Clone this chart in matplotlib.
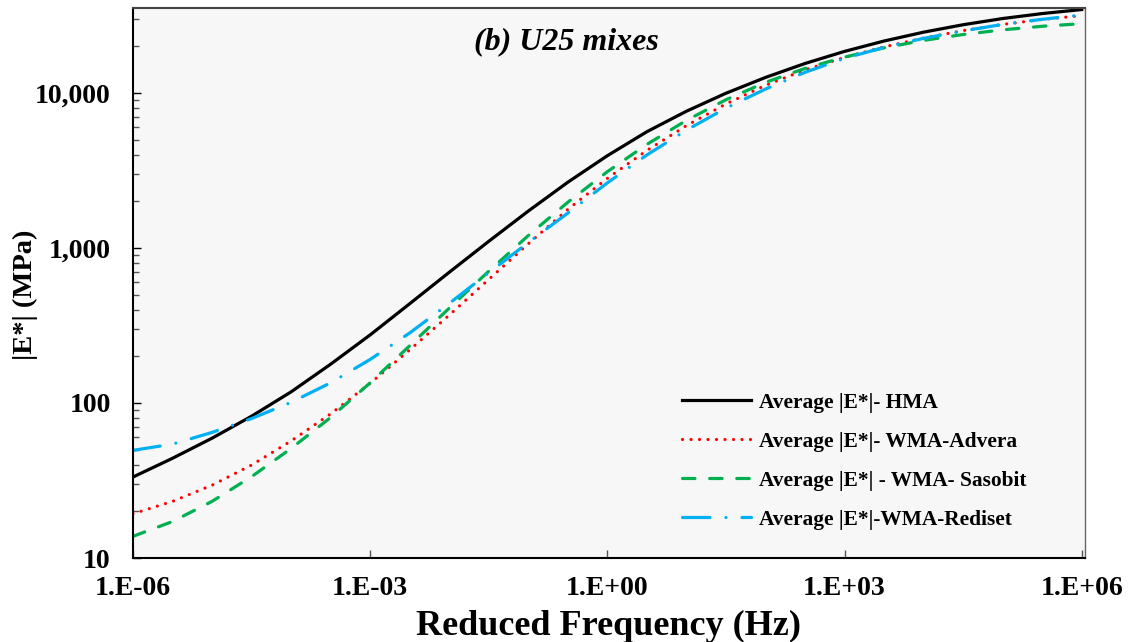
import numpy as np
import matplotlib
matplotlib.use("Agg")
import matplotlib.pyplot as plt
from matplotlib.ticker import FixedLocator, FuncFormatter, LogLocator, NullFormatter

plt.rcParams["font.family"] = ["Liberation Serif", "DejaVu Serif"]
plt.rcParams["font.weight"] = "bold"

# reduced frequency, Hz (half-decade steps)
log_freq = [-6.0, -5.5, -5.0, -4.5, -4.0, -3.5, -3.0, -2.5, -2.0, -1.5, -1.0, -0.5,
            0.0, 0.5, 1.0, 1.5, 2.0, 2.5, 3.0, 3.5, 4.0, 4.5, 5.0, 5.5, 6.0]
freq = [10.0 ** e for e in log_freq]

# |E*| in MPa
hma = [33.3, 44.0, 59.3, 82.2, 118, 178, 275, 437, 697, 1104, 1730, 2655,
       3936, 5623, 7621, 9954, 12589, 15488, 18535, 21627, 24660, 27542, 30200, 32509, 34514]
advera = [19.3, 23.2, 29.5, 39.8, 56.9, 85.1, 134, 220, 369, 627, 1064, 1774,
          2812, 4256, 6152, 8492, 11194, 14093, 16943, 19815, 22594, 25235, 27669, 29785, 31550]
sasobit = [13.8, 17.2, 23.2, 33.5, 50.9, 80.7, 135, 234, 409, 708, 1202, 1972,
           3105, 4656, 6653, 9036, 11695, 14388, 17022, 19543, 21827, 23823, 25527, 26915, 27990]
rediset = [49.5, 54.3, 64.6, 79.4, 101, 135, 191, 283, 439, 692, 1084, 1679,
           2630, 3981, 5754, 7980, 10593, 13583, 16711, 19679, 22491, 25119, 27669, 29854, 31842]

labels = ["Average |E*|- HMA",
          "Average |E*|- WMA-Advera",
          "Average |E*| - WMA- Sasobit",
          "Average |E*|-WMA-Rediset"]

x_ticks = [1e-6, 1e-3, 1e0, 1e3, 1e6]
y_ticks = [10, 100, 1000, 10000]

fig = plt.figure(figsize=(11.31, 6.42), dpi=100)
ax = fig.add_axes([0.1176, 0.1308, 0.8417, 0.8567])
ax.set_facecolor("#f7f7f7")

lw = 2.3
ax.plot(freq, hma, color="black", linewidth=lw, label=labels[0])
ax.plot(freq, advera, color="#ff0000", linewidth=lw, linestyle=(0, (0.01, 2.65)),
        dash_capstyle="round", label=labels[1])
ax.plot(freq, sasobit, color="#00b050", linewidth=lw, linestyle=(0, (3.9, 4.6)),
        dash_capstyle="round", label=labels[2])
ax.plot(freq, rediset, color="#00b0f0", linewidth=lw, linestyle=(0, (8.6, 5.0, 0.01, 5.0)),
        dash_capstyle="round", label=labels[3])

ax.set_xscale("log")
ax.set_yscale("log")
ax.set_xlim(1e-6, 1.1e6)
ax.set_ylim(10, 35300)

ax.xaxis.set_major_locator(FixedLocator(x_ticks))
ax.xaxis.set_minor_locator(FixedLocator([]))
ax.xaxis.set_major_formatter(FuncFormatter(lambda v, p: "1.E{:+03d}".format(int(round(np.log10(v))))))
ax.yaxis.set_major_locator(FixedLocator(y_ticks))
ax.yaxis.set_minor_locator(LogLocator(base=10, subs=np.arange(2, 10)))
ax.yaxis.set_major_formatter(FuncFormatter(lambda v, p: f"{v:,.0f}"))
ax.yaxis.set_minor_formatter(NullFormatter())

ax.tick_params(axis="both", which="major", direction="in", labelsize=20, width=1.0)
ax.tick_params(axis="x", which="major", length=6, pad=13, color="#555555")
ax.tick_params(axis="y", which="major", length=6, pad=16)
ax.tick_params(axis="y", which="minor", direction="in", length=4, width=1.0, color="#555555")
for t in ax.get_xticklabels() + ax.get_yticklabels():
    t.set_fontweight("bold")

ax.spines["left"].set_color("black")
ax.spines["bottom"].set_color("black")
ax.spines["left"].set_linewidth(1.5)
ax.spines["bottom"].set_linewidth(1.5)
ax.spines["top"].set_color("#444444")
ax.spines["right"].set_color("#666666")
ax.spines["top"].set_linewidth(1.5)
ax.spines["right"].set_linewidth(1.0)

ax.set_xlabel("Reduced Frequency (Hz)", fontsize=26, fontweight="bold")
ax.set_ylabel("|E*| (MPa)", fontsize=20.5, fontweight="bold")
ax.xaxis.set_label_coords(0.5, -0.094)
ax.yaxis.set_label_coords(-0.100, 0.478)

ax.text(0.455, 0.938, "(b) U25 mixes", transform=ax.transAxes, ha="center", va="center",
        fontsize=23, fontweight="bold", fontstyle="italic")

ax.legend(loc="lower left", bbox_to_anchor=(0.557, 0.016), frameon=False,
          handlelength=3.2, handletextpad=0.37, labelspacing=0.89,
          prop={"weight": "bold", "size": 15.4})

fig.savefig("out.png", dpi=100)
